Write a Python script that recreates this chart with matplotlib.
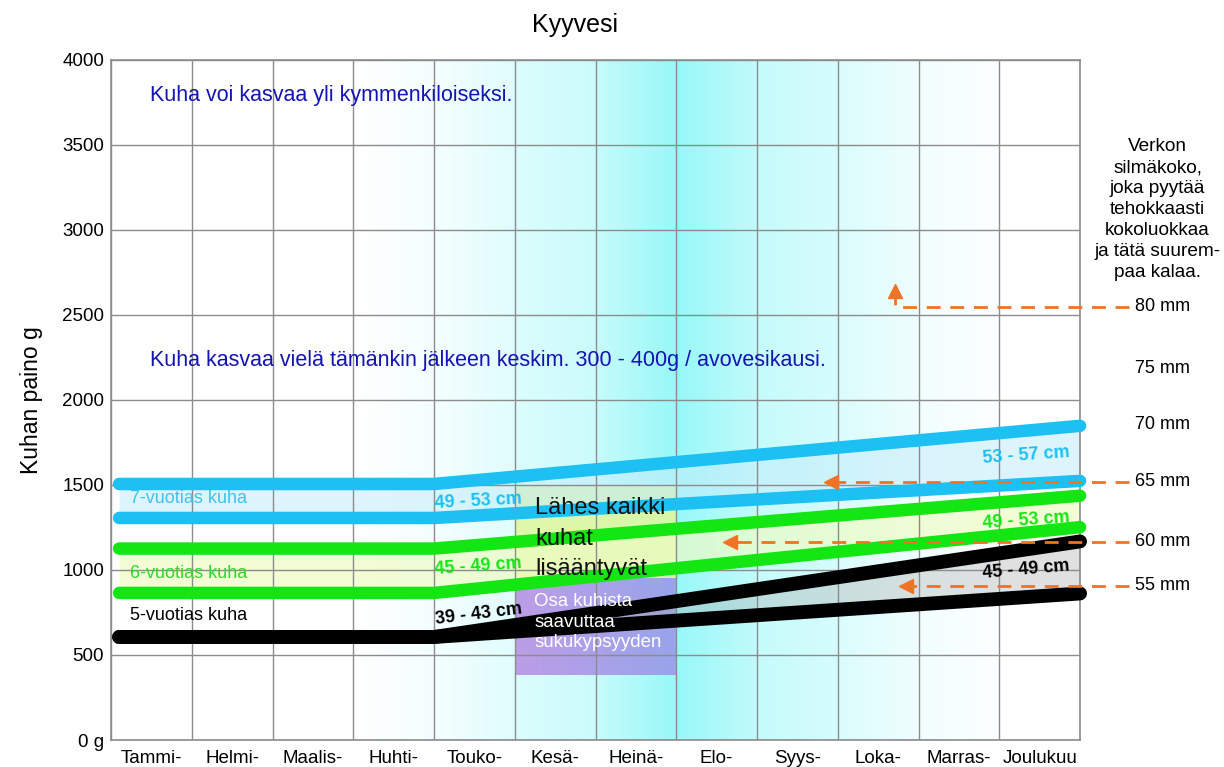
import numpy as np
import matplotlib
matplotlib.use("Agg")
import matplotlib.pyplot as plt
from matplotlib.colors import to_rgb

plt.rcParams['font.family'] = ['Liberation Sans', 'DejaVu Sans']

# --- data ---
months = ['Tammi-', 'Helmi-', 'Maalis-', 'Huhti-', 'Touko-', 'Kesä-',
          'Heinä-', 'Elo-', 'Syys-', 'Loka-', 'Marras-', 'Joulukuu']
x_pts = [0.1, 4, 12]
age7_upper = [1506, 1506, 1848]
age7_lower = [1306, 1306, 1524]
age6_upper = [1126, 1126, 1437]
age6_lower = [865, 865, 1252]
age5_upper = [606, 606, 1168]
age5_lower = [606, 606, 862]

# spawning boxes (month span, weight span)
spawn_x = [5, 7]
spawn_all = [950, 1500]
spawn_some = [380, 950]

# mesh sizes (mm) and their y position
mesh_mm = [80, 75, 70, 65, 60, 55]
mesh_y = [2547, 2188, 1853, 1518, 1165, 906]
# arrow targets (month) for meshes that have an arrow
arrow_mm = [80, 65, 60, 55]
arrow_to = [9.71, 8.84, 7.6, 9.77]

# cyan intensity per month column (left, right)
water_shade = [(0, 0), (0, 0), (0, 0), (0, 0.1), (0.1, 0.3), (0.35, 0.5),
               (0.55, 1.0), (1.0, 0.6), (0.55, 0.4), (0.35, 0.15),
               (0.12, 0.03), (0, 0)]

BLUE = '#1cc0f2'
GREEN = '#14e614'
ORANGE = '#f07224'
TXTBLUE = '#1414b4'

fig = plt.figure(figsize=(12.24, 7.67), dpi=100)
ax = fig.add_axes([0.0907, 0.0352, 0.7917, 0.8866])

# background gradient
n = 40
row = []
for a, b in water_shade:
    row.extend(np.linspace(a, b, n))
row = np.array(row)
cyan = np.array(to_rgb('#98f8f8'))
white = np.ones(3)
img = white[None, :] * (1 - row[:, None]) + cyan[None, :] * row[:, None]
ax.imshow(img[None, :, :], extent=[0, 12, 0, 4000], aspect='auto', zorder=0,
          interpolation='bilinear')

# spawning rectangles
ax.fill_between(spawn_x, spawn_all[0], spawn_all[1], color='#e0f79a', alpha=0.85,
                zorder=1, lw=0)
pg = np.linspace(0, 1, 50)
p0 = np.array(to_rgb('#bb98e6'))
p1 = np.array(to_rgb('#98a0ea'))
pimg = p0[None, :] * (1 - pg[:, None]) + p1[None, :] * pg[:, None]
ax.imshow(pimg[None, :, :], extent=[spawn_x[0], spawn_x[1], spawn_some[0], spawn_some[1]],
          aspect='auto', zorder=1, alpha=0.95)

# fills between growth lines
ax.fill_between(x_pts, age7_lower, age7_upper, color='#c4ecfb', alpha=0.55, zorder=1, lw=0)
ax.fill_between(x_pts, age6_lower, age6_upper, color='#eefcc4', alpha=0.7, zorder=1, lw=0)
ax.fill_between(x_pts, age5_lower, age5_upper, color='#a8a8a8', alpha=0.35, zorder=1, lw=0)

# growth lines
for ys, c, w in [(age7_upper, BLUE, 9), (age7_lower, BLUE, 9), (age6_upper, GREEN, 9),
                 (age6_lower, GREEN, 9), (age5_upper, 'black', 10), (age5_lower, 'black', 10)]:
    ax.plot(x_pts, ys, color=c, lw=w, solid_capstyle='round', solid_joinstyle='round',
            zorder=3, clip_on=False)

# axes / grid
ax.set_xlim(0, 12)
ax.set_ylim(0, 4000)
ax.set_xticks(range(13))
ax.set_xticklabels([])
ax.set_xticks(np.arange(12) + 0.5, minor=True)
ax.set_xticklabels(months, minor=True, fontsize=13.5)
ax.set_yticks(range(0, 4001, 500))
ax.set_yticklabels(['0 g'] + [str(v) for v in range(500, 4001, 500)], fontsize=13.5)
ax.tick_params(which='both', length=0)
ax.tick_params(axis='x', which='minor', pad=7)
ax.tick_params(axis='y', pad=5)
ax.grid(True, which='major', color='#8c8c8c', lw=1)
for s in ax.spines.values():
    s.set_color('#8c8c8c')
    s.set_linewidth(1.2)
ax.set_ylabel('Kuhan paino g', fontsize=16.5, labelpad=14)
fig.text(0.47, 0.967, 'Kyyvesi', fontsize=18, ha='center', va='center')

# annotations
ax.text(0.48, 3794, 'Kuha voi kasvaa yli kymmenkiloiseksi.', color=TXTBLUE,
        fontsize=15.5, va='center', zorder=4)
ax.text(0.48, 2235, 'Kuha kasvaa vielä tämänkin jälkeen keskim. 300 - 400g / avovesikausi.',
        color=TXTBLUE, fontsize=15.5, va='center', zorder=4)
ax.text(0.24, 1418, '7-vuotias kuha', color='#3cc4ee', fontsize=13, va='center', zorder=4)
ax.text(0.24, 982, '6-vuotias kuha', color='#2ed82e', fontsize=13, va='center', zorder=4)
ax.text(0.24, 735, '5-vuotias kuha', color='black', fontsize=13, va='center', zorder=4)

ax.text(4.0, 1405, '49 - 53 cm', color=BLUE, fontsize=13, fontweight='bold',
        rotation=3, va='center', zorder=4)
ax.text(4.0, 1022, '45 - 49 cm', color=GREEN, fontsize=13, fontweight='bold',
        rotation=4, va='center', zorder=4)
ax.text(4.0, 740, '39 - 43 cm', color='black', fontsize=13, fontweight='bold',
        rotation=7, va='center', zorder=4)
ax.text(11.88, 1676, '53 - 57 cm', color=BLUE, fontsize=13, fontweight='bold',
        rotation=4, ha='right', va='center', zorder=4)
ax.text(11.88, 1290, '49 - 53 cm', color=GREEN, fontsize=13, fontweight='bold',
        rotation=4, ha='right', va='center', zorder=4)
ax.text(11.88, 1000, '45 - 49 cm', color='black', fontsize=13, fontweight='bold',
        rotation=5, ha='right', va='center', zorder=4)

ax.text(5.25, 1185, 'Lähes kaikki\nkuhat\nlisääntyvät', fontsize=17, color='#111111',
        va='center', linespacing=1.5, zorder=4)
ax.text(5.24, 693, 'Osa kuhista\nsaavuttaa\nsukukypsyyden', fontsize=13.4, color='white',
        va='center', linespacing=1.28, zorder=4)

# mesh sizes at the right
for mm, y in zip(mesh_mm, mesh_y):
    ax.text(12.68, y, f'{mm} mm', fontsize=13, va='center', clip_on=False)
ax.text(12.96, 3120, 'Verkon\nsilmäkoko,\njoka pyytää\ntehokkaasti\nkokoluokkaa\nja tätä suurem-\npaa kalaa.',
        fontsize=13.7, ha='center', va='center', multialignment='center', linespacing=1.31,
        clip_on=False)

# orange dashed arrows
for mm, xt in zip(arrow_mm, arrow_to):
    y = mesh_y[mesh_mm.index(mm)]
    if mm == 80:
        ax.plot([12.6, xt, xt], [y, y, y + 60], color=ORANGE, lw=2, ls=(0, (5, 3.5)),
                zorder=4, clip_on=False)
        ax.plot(xt, y + 95, marker='^', ms=10, color=ORANGE, zorder=4)
    else:
        ax.plot([12.6, xt + 0.1], [y, y], color=ORANGE, lw=2, ls=(0, (5, 3.5)),
                zorder=4, clip_on=False)
        ax.plot(xt + 0.07, y, marker='<', ms=10, color=ORANGE, zorder=4)

fig.savefig('out.png', dpi=100)
